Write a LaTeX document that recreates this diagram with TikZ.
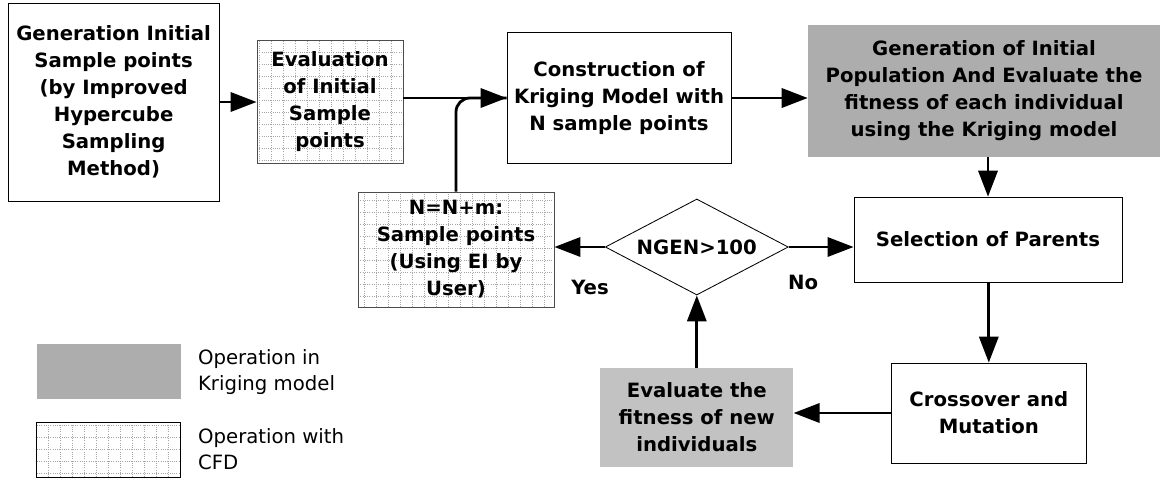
\documentclass[tikz,border=0pt]{standalone}
\usepackage{fontspec}
\setmainfont{DejaVu Sans}
\usetikzlibrary{shapes.geometric, arrows.meta, positioning}

\begin{document}
\begin{tikzpicture}[
    font=\fontsize{14}{19.2}\selectfont\bfseries,
    box/.style={draw, line width=0.6pt, align=center, inner sep=2pt},
    cfd/.style={box, draw=black!70, fill=white,
        path picture={\draw[black!35, densely dotted, step=0.3cm]
            (path picture bounding box.south west) grid (path picture bounding box.north east);}},
    krig/.style={align=center, fill=black!32, inner sep=2pt},
    decide/.style={diamond, draw, line width=0.6pt, aspect=1.9, inner sep=0pt},
    flow/.style={line width=2pt, -{Triangle[length=0.65cm, width=0.48cm]}},
    legendtext/.style={anchor=west, align=left, font=\fontsize{14}{18.5}\selectfont\mdseries}
]
    \useasboundingbox (0,0) rectangle (29.125,-12);

    % main row
    \node[box, minimum width=5.275cm, minimum height=4.95cm] (nA) at (2.84,-2.55)
        {Generation Initial\\Sample points\\(by Improved\\Hypercube\\Sampling\\Method)};
    \node[cfd, minimum width=3.65cm, minimum height=3.075cm] (nB) at (8.25,-2.55)
        {Evaluation\\of Initial\\Sample\\points};
    \node[box, minimum width=5.6cm, minimum height=3.275cm] (nC) at (15.475,-2.45)
        {Construction of\\Kriging Model with\\N sample points};
    \node[krig, minimum width=8.8cm, minimum height=3.3cm] (nD) at (24.6,-2.275)
        {Generation of Initial\\Population And Evaluate the\\fitness of each individual\\using the Kriging model};

    % GA loop
    \node[box, minimum width=6.7cm, minimum height=2.125cm] (nE) at (24.7,-5.99)
        {Selection of Parents};
    \node[box, minimum width=4.875cm, minimum height=2.5cm] (nF) at (24.72,-10.325)
        {Crossover and\\Mutation};
    \node[krig, fill=black!24, minimum width=4.825cm, minimum height=2.475cm] (nG) at (17.42,-10.44)
        {Evaluate the\\fitness of new\\individuals};
    \node[decide, minimum width=4.575cm, minimum height=2.4cm] (nQ) at (17.42,-6.175)
        {NGEN>100};
    \node[cfd, minimum width=4.9cm, minimum height=2.875cm] (nH) at (11.4,-6.24)
        {N=N+m:\\Sample points\\(Using EI by\\User)};

    \node (yes) at (14.75,-7.175) {Yes};
    \node (no) at (20.08,-7.05) {No};

    % connectors
    \draw[flow] (nA) -- (nB);
    \draw[line width=2pt, rounded corners=0.35cm] (nH.north) |- (nC.west);
    \draw[flow] (nB.east |- nC.west) -- (nC.west);
    \draw[flow] (nC.east) -- (nC.east -| nD.west);
    \draw[flow] (nE.north |- nD.south) -- (nE.north);
    \draw[flow] (nQ.east) -- (nQ.east -| nE.west);
    \draw[flow] (nQ.west) -- (nQ.west -| nH.east);
    \draw[flow] (nE.south -| nF.north) -- (nF.north);
    \draw[flow] (nF.west) -- (nF.west -| nG.east);
    \draw[flow] (nG) -- (nQ.south);

    % legend
    \node[krig, minimum width=3.6cm, minimum height=1.375cm] (kbox) at (2.72,-9.29) {};
    \node[legendtext, right=0.3cm of kbox] (ktext) {Operation in\\Kriging model};
    \node[cfd, draw=black, minimum width=3.6cm, minimum height=1.375cm] (cbox) at (2.72,-11.24) {};
    \node[legendtext, right=0.3cm of cbox] (ctext) {Operation with\\CFD};
\end{tikzpicture}
\end{document}
